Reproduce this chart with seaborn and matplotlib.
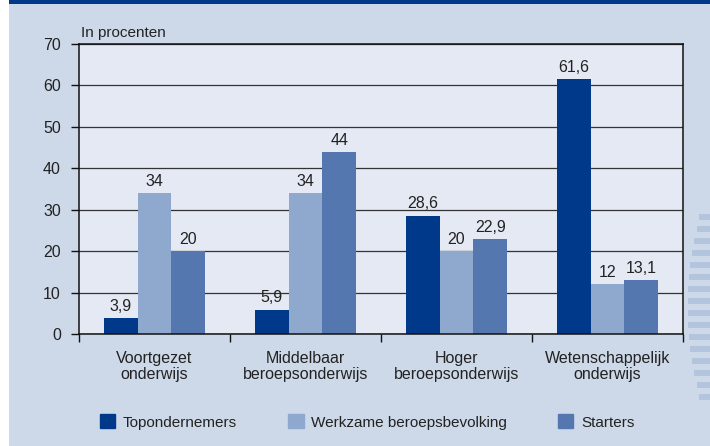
import numpy as np
import pandas as pd
import seaborn as sns
import matplotlib.pyplot as plt
from matplotlib.patches import Rectangle

sns.set_theme(style='white')
plt.rcParams['font.family'] = ['Liberation Sans', 'DejaVu Sans']

# Gegevens
categorieen = ['Voortgezet\nonderwijs', 'Middelbaar\nberoepsonderwijs',
               'Hoger\nberoepsonderwijs', 'Wetenschappelijk\nonderwijs']
groepen = ['Topondernemers', 'Werkzame beroepsbevolking', 'Starters']
topondernemers = [3.9, 5.9, 28.6, 61.6]
werkzame = [34, 34, 20, 12]
starters = [20, 44, 22.9, 13.1]
y_ticks = [0, 10, 20, 30, 40, 50, 60, 70]

kleuren = ['#00388A', '#8FA8CE', '#5577B0']
achtergrond = '#CDD9E8'
plotvlak = '#E4E9F3'
tekst = '#222222'

df = pd.DataFrame({
    'categorie': categorieen * 3,
    'groep': np.repeat(groepen, len(categorieen)),
    'waarde': topondernemers + werkzame + starters,
})

fig = plt.figure(figsize=(7.10, 4.46), dpi=100, facecolor='white')

# Achtergrondvlak met decoratie
bg = fig.add_axes([0, 0, 1, 1], zorder=-5)
bg.set_xlim(0, 710)
bg.set_ylim(446, 0)
bg.axis('off')
bg.add_patch(Rectangle((9, 0), 701, 446, color=achtergrond, lw=0))
bg.add_patch(Rectangle((9, 0), 701, 4, color='#00388A', lw=0))
cx, cy, r = 1046, 307, 358
for y in np.arange(214, 402, 12):
    x0 = cx - np.sqrt(r ** 2 - (y + 3 - cy) ** 2)
    bg.add_patch(Rectangle((x0, y), 710 - x0, 6, color='#B2C5DD', lw=0))

ax = fig.add_axes([79 / 710, 1 - 334 / 446, 604 / 710, 290 / 446])
ax.set_facecolor(plotvlak)

sns.barplot(data=df, x='categorie', y='waarde', hue='groep',
            hue_order=groepen, palette=kleuren, width=0.67,
            saturation=1, linewidth=0, ax=ax, legend=False)

for cont in ax.containers:
    labels = [f'{v:g}'.replace('.', ',') for v in cont.datavalues]
    ax.bar_label(cont, labels=labels, padding=3, fontsize=11.5, color=tekst)

ax.set_ylim(0, 70)
ax.set_xlim(-0.5, 3.5)
ax.set_yticks(y_ticks)
ax.yaxis.grid(True, color='#333333', lw=0.9)
ax.set_axisbelow(True)
ax.set_xlabel('')
ax.set_ylabel('')

for s in ax.spines.values():
    s.set_visible(True)
    s.set_color('#111111')
    s.set_linewidth(1.1)

ax.tick_params(axis='y', length=6, width=1, color='#111111', pad=7,
               labelsize=11.5, labelcolor=tekst, left=True)
ax.tick_params(axis='x', which='major', length=0, pad=12,
               labelsize=11.5, labelcolor=tekst)
ax.set_xticks(np.arange(-0.5, 4, 1), minor=True)
ax.tick_params(axis='x', which='minor', length=6, width=1,
               color='#111111', bottom=True)
for lbl in ax.get_xticklabels():
    lbl.set_linespacing(1.15)

fig.text(81 / 710, 1 - 33 / 446, 'In procenten', fontsize=11,
         color=tekst, va='center', ha='left')

handles = [Rectangle((0, 0), 1, 1, color=k) for k in kleuren]
fig.legend(handles, groepen, loc='center left',
           bbox_to_anchor=(100 / 710, 1 - 422 / 446), ncol=3,
           frameon=False, fontsize=11, handlelength=1.0,
           handleheight=1.0, handletextpad=0.5, columnspacing=3.35,
           borderpad=0, borderaxespad=0, labelcolor=tekst)

plt.savefig('out.png', dpi=100)
